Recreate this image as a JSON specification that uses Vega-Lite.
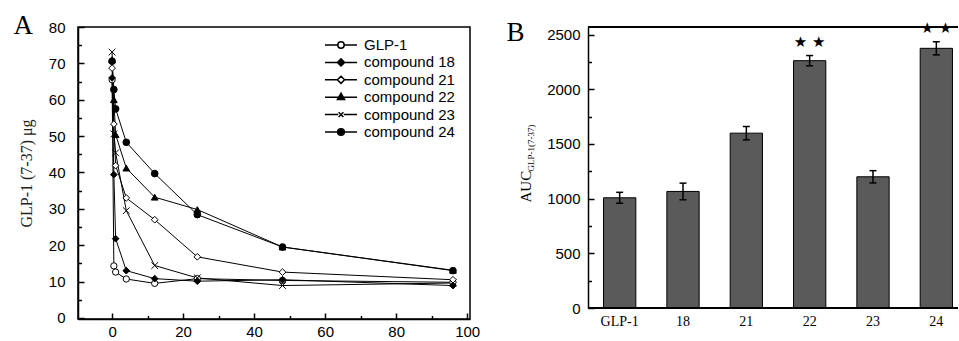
{
  "$schema": "https://vega.github.io/schema/vega-lite/v6.json",
  "padding": {"left": 12, "top": 10, "right": 0, "bottom": 0},
  "spacing": 25,
  "config": {
    "font": "Liberation Sans",
    "axis": {"labelColor": "black", "domainColor": "black", "tickColor": "black", "grid": false, "labelFont": "Liberation Sans", "labelFontSize": 15, "domainWidth": 1.5, "tickWidth": 1.5, "titleColor": "black", "titleFontWeight": "normal"},
    "legend": {"labelFont": "Liberation Sans", "labelFontSize": 15, "labelColor": "black"}
  },
  "datasets": {
    "pk": [
      {"series": "GLP-1", "t": 0, "v": 65.5},
      {"series": "GLP-1", "t": 0.5, "v": 14.3},
      {"series": "GLP-1", "t": 1, "v": 12.6},
      {"series": "GLP-1", "t": 4, "v": 10.7},
      {"series": "GLP-1", "t": 12, "v": 9.5},
      {"series": "GLP-1", "t": 24, "v": 10.8},
      {"series": "GLP-1", "t": 48, "v": 10.3},
      {"series": "GLP-1", "t": 96, "v": 9.8},
      {"series": "compound 18", "t": 0, "v": 66},
      {"series": "compound 18", "t": 0.5, "v": 39.4},
      {"series": "compound 18", "t": 1, "v": 21.8},
      {"series": "compound 18", "t": 4, "v": 13},
      {"series": "compound 18", "t": 12, "v": 10.8},
      {"series": "compound 18", "t": 24, "v": 10.1},
      {"series": "compound 18", "t": 48, "v": 10.5},
      {"series": "compound 18", "t": 96, "v": 8.9},
      {"series": "compound 21", "t": 0, "v": 68.7},
      {"series": "compound 21", "t": 0.5, "v": 53.3},
      {"series": "compound 21", "t": 1, "v": 41.9},
      {"series": "compound 21", "t": 4, "v": 33},
      {"series": "compound 21", "t": 12, "v": 27},
      {"series": "compound 21", "t": 24, "v": 16.8},
      {"series": "compound 21", "t": 48, "v": 12.6},
      {"series": "compound 21", "t": 96, "v": 10.5},
      {"series": "compound 22", "t": 0, "v": 71},
      {"series": "compound 22", "t": 0.5, "v": 60},
      {"series": "compound 22", "t": 1, "v": 50.4},
      {"series": "compound 22", "t": 4, "v": 41.2},
      {"series": "compound 22", "t": 12, "v": 33.2},
      {"series": "compound 22", "t": 24, "v": 29.8},
      {"series": "compound 22", "t": 48, "v": 19.5},
      {"series": "compound 22", "t": 96, "v": 13.1},
      {"series": "compound 23", "t": 0, "v": 73.1},
      {"series": "compound 23", "t": 0.5, "v": 50.6},
      {"series": "compound 23", "t": 1, "v": 45.4},
      {"series": "compound 23", "t": 4, "v": 29.5},
      {"series": "compound 23", "t": 12, "v": 14.4},
      {"series": "compound 23", "t": 24, "v": 11},
      {"series": "compound 23", "t": 48, "v": 8.9},
      {"series": "compound 23", "t": 96, "v": 9.6},
      {"series": "compound 24", "t": 0, "v": 70.6},
      {"series": "compound 24", "t": 0.5, "v": 62.8},
      {"series": "compound 24", "t": 1, "v": 57.5},
      {"series": "compound 24", "t": 4, "v": 48.3},
      {"series": "compound 24", "t": 12, "v": 39.7},
      {"series": "compound 24", "t": 24, "v": 28.4},
      {"series": "compound 24", "t": 48, "v": 19.5},
      {"series": "compound 24", "t": 96, "v": 13}
    ],
    "auc": [
      {"name": "GLP-1", "auc": 1008, "lo": 958, "hi": 1058, "sig": ""},
      {"name": "18", "auc": 1066, "lo": 990, "hi": 1142, "sig": ""},
      {"name": "21", "auc": 1599, "lo": 1538, "hi": 1660, "sig": ""},
      {"name": "22", "auc": 2262, "lo": 2215, "hi": 2309, "sig": "★ ★"},
      {"name": "23", "auc": 1200, "lo": 1144, "hi": 1256, "sig": ""},
      {"name": "24", "auc": 2375, "lo": 2315, "hi": 2435, "sig": "★ ★"}
    ]
  },
  "hconcat": [
    {
      "width": 392,
      "height": 292,
      "view": {"stroke": "black", "strokeWidth": 1.5},
      "data": {"name": "pk"},
      "layer": [
        {
          "mark": {"type": "line", "color": "black", "strokeWidth": 1},
          "encoding": {
            "x": {"field": "t", "type": "quantitative", "scale": {"domain": [-9.6, 100.8], "nice": false, "zero": false}, "axis": {"values": [0, 20, 40, 60, 80, 100], "tickSize": -6, "labelPadding": 11, "title": null}},
            "y": {"field": "v", "type": "quantitative", "scale": {"domain": [-0.3, 80], "nice": false, "zero": false}, "axis": {"values": [0, 10, 20, 30, 40, 50, 60, 70, 80], "tickSize": -6, "labelPadding": 19, "title": "GLP-1 (7-37) μg", "titleFont": "Liberation Serif", "titleFontSize": 16, "titleColor": "#222", "titlePadding": 14}},
            "detail": {"field": "series"}
          }
        },
        {
          "transform": [{"filter": "datum.series === 'GLP-1'"}],
          "mark": {"type": "point", "shape": "circle", "filled": true, "fill": "white", "stroke": "black", "strokeWidth": 1, "size": 40, "opacity": 1},
          "encoding": {"x": {"field": "t", "type": "quantitative", "axis": null}, "y": {"field": "v", "type": "quantitative", "axis": null}}
        },
        {
          "transform": [{"filter": "datum.series === 'compound 18'"}],
          "mark": {"type": "point", "shape": "diamond", "filled": true, "fill": "black", "stroke": "black", "strokeWidth": 1, "size": 45, "opacity": 1},
          "encoding": {"x": {"field": "t", "type": "quantitative", "axis": null}, "y": {"field": "v", "type": "quantitative", "axis": null}}
        },
        {
          "transform": [{"filter": "datum.series === 'compound 21'"}],
          "mark": {"type": "point", "shape": "diamond", "filled": true, "fill": "white", "stroke": "black", "strokeWidth": 1, "size": 45, "opacity": 1},
          "encoding": {"x": {"field": "t", "type": "quantitative", "axis": null}, "y": {"field": "v", "type": "quantitative", "axis": null}}
        },
        {
          "transform": [{"filter": "datum.series === 'compound 22'"}],
          "mark": {"type": "point", "shape": "triangle-up", "filled": true, "fill": "black", "stroke": "black", "strokeWidth": 1, "size": 45, "opacity": 1},
          "encoding": {"x": {"field": "t", "type": "quantitative", "axis": null}, "y": {"field": "v", "type": "quantitative", "axis": null}}
        },
        {
          "transform": [{"filter": "datum.series === 'compound 23'"}],
          "mark": {"type": "point", "shape": "M-1,-1L1,1M-1,1L1,-1", "filled": false, "stroke": "black", "strokeWidth": 1, "size": 45, "opacity": 1},
          "encoding": {"x": {"field": "t", "type": "quantitative", "axis": null}, "y": {"field": "v", "type": "quantitative", "axis": null}}
        },
        {
          "transform": [{"filter": "datum.series === 'compound 24'"}],
          "mark": {"type": "point", "shape": "circle", "filled": true, "fill": "black", "stroke": "black", "strokeWidth": 1, "size": 45, "opacity": 1},
          "encoding": {"x": {"field": "t", "type": "quantitative", "axis": null}, "y": {"field": "v", "type": "quantitative", "axis": null}}
        },
        {
          "transform": [{"filter": "false"}],
          "mark": {"type": "point", "filled": true, "stroke": "black", "strokeWidth": 1, "size": 45, "opacity": 1},
          "encoding": {
            "x": {"field": "t", "type": "quantitative", "axis": null},
            "y": {"field": "v", "type": "quantitative", "axis": null},
            "shape": {"field": "series", "type": "nominal",
              "scale": {"domain": ["GLP-1", "compound 18", "compound 21", "compound 22", "compound 23", "compound 24"],
                "range": [
                  "M-2,0L-0.4,0M0.4,0L2,0M0.4,0A0.4,0.4,0,1,1,-0.4,0A0.4,0.4,0,1,1,0.4,0",
                  "M-2,0L-0.45,0M0.45,0L2,0M0,-0.45L0.45,0L0,0.45L-0.45,0Z",
                  "M-2,0L-0.45,0M0.45,0L2,0M0,-0.45L0.45,0L0,0.45L-0.45,0Z",
                  "M-2,0L2,0M0,-0.5L0.45,0.3L-0.45,0.3Z",
                  "M-2,0L-0.35,0M0.35,0L2,0M-0.3,-0.3L0.3,0.3M-0.3,0.3L0.3,-0.3",
                  "M-2,0L2,0M0.42,0A0.42,0.42,0,1,1,-0.42,0A0.42,0.42,0,1,1,0.42,0"
                ]},
              "legend": {"orient": "none", "legendX": 254, "legendY": 9, "title": null, "symbolSize": 256, "padding": 0, "rowPadding": 0.4, "labelOffset": 14,
                "encode": {"symbols": {
                  "stroke": {"value": "black"},
                  "strokeWidth": {"value": 1},
                  "opacity": {"value": 1}
                }}}},
            "fill": {"field": "series", "type": "nominal", "scale": {"domain": ["GLP-1", "compound 18", "compound 21", "compound 22", "compound 23", "compound 24"], "range": ["white", "black", "white", "black", "white", "black"]}, "legend": null}
          }
        },
        {
          "mark": {"type": "point", "opacity": 0},
          "encoding": {
            "x": {"field": "t", "type": "quantitative", "axis": {"orient": "bottom", "values": [10, 30, 50, 70, 90], "labels": false, "domain": false, "tickSize": -3.5, "title": null}},
            "y": {"field": "v", "type": "quantitative", "axis": {"orient": "left", "values": [5, 15, 25, 35, 45, 55, 65, 75], "labels": false, "domain": false, "tickSize": -3.5, "title": null}}
          }
        },
        {
          "mark": {"type": "point", "opacity": 0},
          "encoding": {
            "x": {"field": "t", "type": "quantitative", "axis": {"orient": "top", "labels": false, "ticks": false, "domain": false, "title": "A", "titleFont": "Liberation Serif", "titleFontSize": 27, "titleAngle": 0, "titleAlign": "left", "titleBaseline": "alphabetic", "titleX": -65, "titleY": 6}}
          }
        }
      ],
      "resolve": {"axis": {"x": "independent", "y": "independent"}}
    },
    {
      "width": 370,
      "height": 281,
      "view": {"stroke": null},
      "data": {"name": "auc"},
      "layer": [
        {
          "mark": {"type": "bar", "color": "#5a5a5a", "stroke": "black", "strokeWidth": 1},
          "encoding": {
            "x": {"field": "name", "type": "nominal", "sort": null, "scale": {"range": [0, 380], "paddingInner": 0.49, "paddingOuter": 0.245}, "axis": {"labelAngle": 0, "labelFont": "Liberation Serif", "labelFontSize": 14, "ticks": false, "domain": false, "labelPadding": 6, "title": null}},
            "y": {"field": "auc", "type": "quantitative", "scale": {"domain": [0, 2570], "nice": false}, "axis": {"values": [0, 500, 1000, 1500, 2000, 2500], "format": "d", "tickSize": -6, "labelPadding": 14, "title": "AUC", "titleFont": "Liberation Serif", "titleFontSize": 15, "titleAngle": -90, "titleAlign": "left", "titleBaseline": "middle", "titleX": -63, "titleY": 175}}
          }
        },
        {
          "mark": {"type": "rule", "color": "black", "strokeWidth": 1.5},
          "encoding": {
            "x": {"field": "name", "type": "nominal", "sort": null, "axis": null},
            "y": {"field": "lo", "type": "quantitative", "axis": null},
            "y2": {"field": "hi"}
          }
        },
        {
          "mark": {"type": "tick", "orient": "horizontal", "size": 7, "thickness": 1.5, "color": "black", "opacity": 1},
          "encoding": {
            "x": {"field": "name", "type": "nominal", "sort": null, "axis": null},
            "y": {"field": "lo", "type": "quantitative", "axis": null}
          }
        },
        {
          "mark": {"type": "tick", "orient": "horizontal", "size": 7, "thickness": 1.5, "color": "black", "opacity": 1},
          "encoding": {
            "x": {"field": "name", "type": "nominal", "sort": null, "axis": null},
            "y": {"field": "hi", "type": "quantitative", "axis": null}
          }
        },
        {
          "mark": {"type": "text", "font": "DejaVu Sans", "fontSize": 15, "dy": -14, "baseline": "middle", "color": "black"},
          "encoding": {
            "x": {"field": "name", "type": "nominal", "sort": null, "axis": null},
            "y": {"field": "hi", "type": "quantitative", "axis": null},
            "text": {"field": "sig"}
          }
        },
        {
          "mark": {"type": "rule", "color": "black", "strokeWidth": 2},
          "encoding": {"y": {"datum": 2570, "type": "quantitative", "axis": null}}
        },
        {
          "mark": {"type": "rule", "color": "black", "strokeWidth": 2},
          "encoding": {"y": {"datum": 0, "type": "quantitative", "axis": null}}
        },
        {
          "mark": {"type": "point", "opacity": 0},
          "encoding": {
            "y": {"field": "auc", "type": "quantitative", "axis": {"orient": "left", "values": [250, 750, 1250, 1750, 2250], "labels": false, "domain": false, "tickSize": -3.5, "title": "GLP-1(7-37)", "titleFont": "Liberation Serif", "titleFontSize": 9, "titleAngle": -90, "titleAlign": "left", "titleBaseline": "middle", "titleX": -58, "titleY": 144}}
          }
        },
        {
          "mark": {"type": "point", "opacity": 0},
          "encoding": {
            "x": {"field": "name", "type": "nominal", "sort": null, "axis": {"orient": "top", "labels": false, "ticks": false, "domain": false, "title": "B", "titleFont": "Liberation Serif", "titleFontSize": 27, "titleAngle": 0, "titleAlign": "left", "titleBaseline": "alphabetic", "titleX": -82, "titleY": 13}}
          }
        }
      ],
      "resolve": {"axis": {"x": "independent", "y": "independent"}}
    }
  ]
}
